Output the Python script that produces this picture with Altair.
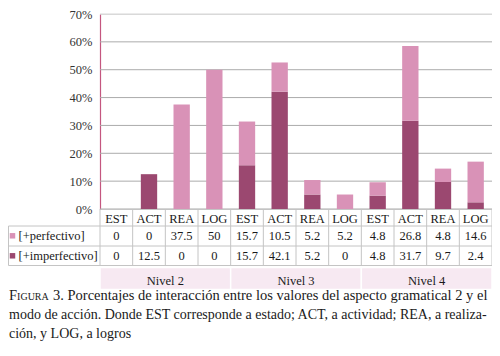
import altair as alt
import pandas as pd

# ---------------- data ----------------
categorias = ["EST", "ACT", "REA", "LOG"]
niveles = ["Nivel 2", "Nivel 3", "Nivel 4"]
series = ["[+perfectivo]", "[+imperfectivo]"]
perfectivo = [0, 0, 37.5, 50, 15.7, 10.5, 5.2, 5.2, 4.8, 26.8, 4.8, 14.6]
imperfectivo = [0, 12.5, 0, 0, 15.7, 42.1, 5.2, 0, 4.8, 31.7, 9.7, 2.4]
y_ticks = [0, 10, 20, 30, 40, 50, 60, 70]

caption_f = "F"
caption_sc = "IGURA"
caption_l1 = "3. Porcentajes de interacción entre los valores del aspecto gramatical 2 y el"
caption_rest = ("modo de acción. Donde EST corresponde a estado; ACT, a actividad; REA, a realiza-\n"
                "ción, y LOG, a logros")

# ---------------- styles ----------------
LIGHT = "#d992b7"
DARK = "#9b4870"
NIVEL_BG = "#f7e9f2"
GRID = "#ababab"
BORDER = "#c4c4c4"
AXIS_PINK = "#c4567f"
FONT = "'Liberation Serif', 'Times New Roman', 'DejaVu Serif', serif"
TXT = "#1a1a1a"

W, H = 392, 195
ncol = len(perfectivo)

rows = []
for k in range(ncol):
    rows.append({
        "i": k,
        "x0": k + 0.25,
        "x1": k + 0.75,
        "xc": k + 0.5,
        "cat": categorias[k % len(categorias)],
        "perf": perfectivo[k],
        "imperf": imperfectivo[k],
        "total": perfectivo[k] + imperfectivo[k],
        "perf_txt": f"{perfectivo[k]:g}",
        "imperf_txt": f"{imperfectivo[k]:g}",
    })
df = pd.DataFrame(rows)

nper = len(categorias)
niv_df = pd.DataFrame({
    "nivel": niveles,
    "a": [j * nper for j in range(len(niveles))],
    "b": [(j + 1) * nper for j in range(len(niveles))],
    "c": [j * nper + nper / 2 for j in range(len(niveles))],
})
vlines = pd.DataFrame({"b": list(range(ncol + 1))})
grid_df = pd.DataFrame({"v": y_ticks[:-1]})
top_df = pd.DataFrame({"v": y_ticks[-1:]})
one = pd.DataFrame({"k": [0]})

xs = alt.Scale(domain=[0, ncol], nice=False, zero=False)
ys = alt.Scale(domain=[0, 70], nice=False)

yaxis = alt.Axis(values=y_ticks, labelExpr="datum.value + '%'", grid=False, ticks=False,
                 domainColor=AXIS_PINK, domainWidth=1.2, labelFont=FONT, labelFontSize=12.5,
                 labelColor="#333333", labelPadding=8, title=None)

grid = alt.Chart(grid_df).mark_rule(color=GRID, strokeWidth=1).encode(
    y=alt.Y("v:Q", scale=ys, axis=yaxis),
    x=alt.value(0), x2=alt.value(W))
top = alt.Chart(top_df).mark_rule(color="#d6d6d6", strokeWidth=1).encode(
    y=alt.Y("v:Q", scale=ys, axis=yaxis),
    x=alt.value(0), x2=alt.value(W))

bar_imp = alt.Chart(df).mark_bar(color=DARK).encode(
    x=alt.X("x0:Q", scale=xs, axis=None), x2="x1:Q",
    y=alt.Y("imperf:Q", scale=ys, axis=yaxis), y2=alt.Y2(datum=0))
bar_perf = alt.Chart(df).mark_bar(color=LIGHT).encode(
    x=alt.X("x0:Q", scale=xs, axis=None), x2="x1:Q",
    y=alt.Y("imperf:Q", scale=ys, axis=yaxis), y2="total:Q")

# table
Y_HEAD_LINE, Y_R1_LINE, Y_R2_LINE = 212, 232, 251.5
LEFT = -91.5
vrules = alt.Chart(vlines).mark_rule(color=BORDER, strokeWidth=1).encode(
    x=alt.X("b:Q", scale=xs, axis=None), y=alt.value(H), y2=alt.value(Y_R2_LINE))
hr = []
for yy in (Y_HEAD_LINE, Y_R1_LINE, Y_R2_LINE):
    hr.append(alt.Chart(one).mark_rule(color=BORDER, strokeWidth=1).encode(
        x=alt.value(LEFT), x2=alt.value(W), y=alt.value(yy)))
left_border = alt.Chart(one).mark_rule(color=BORDER, strokeWidth=1).encode(
    x=alt.value(LEFT), y=alt.value(Y_HEAD_LINE), y2=alt.value(Y_R2_LINE))

tsty = dict(font=FONT, fontSize=12.5, color=TXT, baseline="alphabetic")
head = alt.Chart(df).mark_text(**tsty).encode(
    x=alt.X("xc:Q", scale=xs, axis=None), y=alt.value(208.7), text="cat:N")
row1 = alt.Chart(df).mark_text(**tsty).encode(
    x=alt.X("xc:Q", scale=xs, axis=None), y=alt.value(226.3), text="perf_txt:N")
row2 = alt.Chart(df).mark_text(**tsty).encode(
    x=alt.X("xc:Q", scale=xs, axis=None), y=alt.value(246.3), text="imperf_txt:N")

niv_rect = alt.Chart(niv_df).mark_rect(color=NIVEL_BG, stroke="white", strokeWidth=1.5).encode(
    x=alt.X("a:Q", scale=xs, axis=None), x2="b:Q", y=alt.value(253.5), y2=alt.value(275.5))
niv_txt = alt.Chart(niv_df).mark_text(**tsty).encode(
    x=alt.X("c:Q", scale=xs, axis=None), y=alt.value(271), text="nivel:N")

sw1 = alt.Chart(one).mark_square(size=30, color=LIGHT, opacity=1).encode(
    x=alt.value(-87.5), y=alt.value(221.8))
sw2 = alt.Chart(one).mark_square(size=30, color=DARK, opacity=1).encode(
    x=alt.value(-87.5), y=alt.value(241.8))
lab1 = alt.Chart(one).mark_text(align="left", **tsty).encode(
    x=alt.value(-81.5), y=alt.value(226.3), text=alt.value(series[0]))
lab2 = alt.Chart(one).mark_text(align="left", **tsty).encode(
    x=alt.value(-81.5), y=alt.value(246.3), text=alt.value(series[1]))

csty = dict(font=FONT, color=TXT, baseline="alphabetic", align="left")
cap_f = alt.Chart(one).mark_text(fontSize=14.5, **csty).encode(
    x=alt.value(-91), y=alt.value(285.5), text=alt.value(caption_f))
cap_sc = alt.Chart(one).mark_text(fontSize=10, **csty).encode(
    x=alt.value(-82.9), y=alt.value(285.5), text=alt.value(caption_sc))
cap_l1 = alt.Chart(one).mark_text(fontSize=14.5, **csty).encode(
    x=alt.value(-47), y=alt.value(285.5), text=alt.value(caption_l1))
cap_rest = alt.Chart(one).mark_text(fontSize=14, lineBreak="\n", lineHeight=19, **csty).encode(
    x=alt.value(-91), y=alt.value(304.5), text=alt.value(caption_rest))

chart = alt.layer(
    grid, top, niv_rect, vrules, *hr, left_border,
    bar_imp, bar_perf,
    head, row1, row2, niv_txt, sw1, sw2, lab1, lab2,
    cap_f, cap_sc, cap_l1, cap_rest,
).properties(
    width=W, height=H,
    autosize=alt.AutoSizeParams(type="none"),
    padding={"left": 92, "top": 6, "right": 0, "bottom": 136},
).configure_view(stroke=None).configure(font=FONT)

chart.save("out.html", embed_options={"renderer": "svg", "actions": False})
